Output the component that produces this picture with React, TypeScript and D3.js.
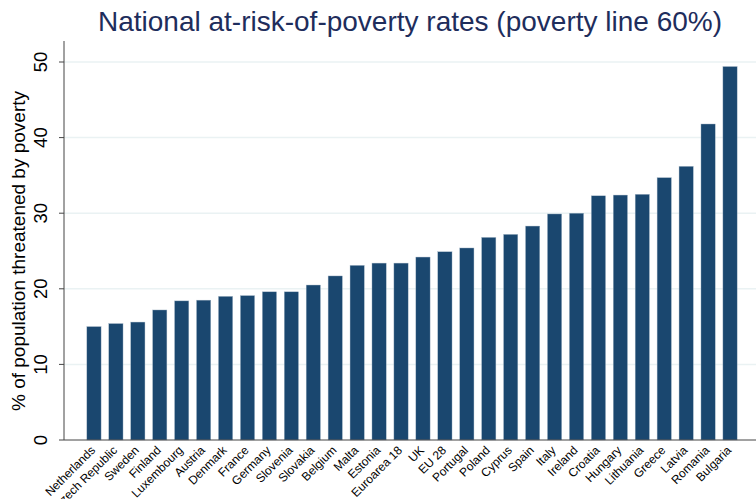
import React from "react";
import * as d3 from "d3";

const categories = [
  "Netherlands", "Czech Republic", "Sweden", "Finland", "Luxembourg", "Austria",
  "Denmark", "France", "Germany", "Slovenia", "Slovakia", "Belgium", "Malta",
  "Estonia", "Euroarea 18", "UK", "EU 28", "Portugal", "Poland", "Cyprus",
  "Spain", "Italy", "Ireland", "Croatia", "Hungary", "Lithuania", "Greece",
  "Latvia", "Romania", "Bulgaria",
];
const values = [
  15.0, 15.4, 15.6, 17.2, 18.4, 18.5, 19.0, 19.1, 19.6, 19.6, 20.5, 21.7, 23.1,
  23.4, 23.4, 24.2, 24.9, 25.4, 26.8, 27.2, 28.3, 29.9, 30.0, 32.3, 32.4, 32.5,
  34.7, 36.2, 41.8, 49.4,
];
const yTicks = [0, 10, 20, 30, 40, 50];
const title = "National at-risk-of-poverty rates (poverty line 60%)";
const yTitle = "% of population threatened by poverty";

const W = 756;
const H = 499;
const axisX = 64;
const y0 = 440;

export default function App() {
  const x = d3
    .scaleBand<string>()
    .domain(categories)
    .range([83, 741])
    .paddingInner(0.35)
    .paddingOuter(0.175);
  const y = d3.scaleLinear().domain([0, 50]).range([y0, 62]);
  const font = "'Liberation Sans', Arial, sans-serif";

  return (
    <svg
      width={W}
      height={H}
      style={{ position: "absolute", left: 0, top: 0, background: "#fff" }}
      fontFamily={font}
    >
      <rect x={0} y={0} width={W} height={H} fill="#fff" />
      {yTicks.filter((t) => t > 0).map((t) => (
        <line key={"g" + t} x1={axisX} x2={W} y1={y(t)} y2={y(t)} stroke="#eaf2f3" strokeWidth={1.5} />
      ))}
      {categories.map((c, i) => (
        <rect
          key={c}
          x={x(c)}
          y={y(values[i])}
          width={x.bandwidth()}
          height={y0 - y(values[i])}
          fill="#1a476f"
          stroke="#a9b9c9"
          strokeWidth={0.4}
        />
      ))}
      <line x1={axisX} x2={axisX} y1={41} y2={y0} stroke="#444" strokeWidth={1} />
      <line x1={axisX} x2={W} y1={y0} y2={y0} stroke="#444" strokeWidth={1} />
      {yTicks.map((t) => (
        <g key={"t" + t}>
          <line x1={axisX - 5} x2={axisX} y1={y(t)} y2={y(t)} stroke="#444" strokeWidth={1} />
          <text
            transform={`translate(47,${y(t)}) rotate(-90)`}
            textAnchor="middle"
            fontSize={18.5}
            fill="#000"
          >
            {t}
          </text>
        </g>
      ))}
      <text
        transform={`translate(25,251) rotate(-90)`}
        textAnchor="middle"
        fontSize={19}
        fill="#000"
      >
        {yTitle}
      </text>
      {categories.map((c) => (
        <text
          key={"l" + c}
          transform={`translate(${(x(c) as number) + x.bandwidth() / 2 + 2},${451}) rotate(-45)`}
          textAnchor="end"
          fontSize={12}
          fill="#000"
        >
          {c}
        </text>
      ))}
      <text x={410} y={31} textAnchor="middle" fontSize={28} fill="#1e2d5c">
        {title}
      </text>
    </svg>
  );
}
